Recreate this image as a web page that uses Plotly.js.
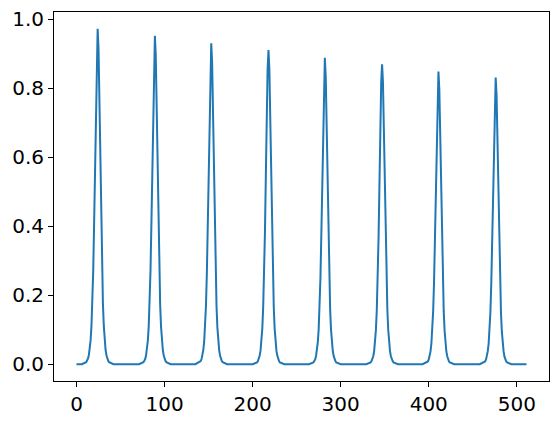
<!DOCTYPE html>
<html>
<head>
<meta charset="utf-8">
<script src="https://cdn.plot.ly/plotly-3.0.1.min.js"></script>
<style>html,body{margin:0;padding:0;background:#fff;}#chart{width:558px;height:421px;}</style>
</head>
<body>
<div id="chart"></div>
<script>
// Sample index where each pulse peaks
const peakCenters = [24, 89, 153, 218, 282, 347, 411, 476];
// Sample offsets around each peak
const offsets = [-18, -13, -12, -11, -10, -9, -8, -7, -6, -5, -4, -3, -2, -1, 0, 1, 2, 3, 4, 5, 6, 7, 8, 9, 10, 11, 12, 13, 18];
// Values (same offsets as above)
const pulse1 = [0, 0.006,0.010,0.016,0.026,0.042,0.069,0.111,0.176,0.272,0.408,0.580,0.764,0.914,0.972,0.914,0.764,0.580,0.408,0.272,0.176,0.111,0.069,0.042,0.026,0.016,0.010,0.006, 0];
const pulse2 = [0, 0.006,0.010,0.015,0.026,0.042,0.068,0.109,0.172,0.267,0.400,0.568,0.748,0.895,0.952,0.895,0.748,0.568,0.400,0.267,0.172,0.109,0.068,0.042,0.026,0.015,0.010,0.006, 0];
const pulse3 = [0, 0.006,0.009,0.015,0.025,0.041,0.066,0.106,0.168,0.260,0.391,0.555,0.731,0.874,0.930,0.874,0.731,0.555,0.391,0.260,0.168,0.106,0.066,0.041,0.025,0.015,0.009,0.006, 0];
const pulse4 = [0, 0.005,0.009,0.015,0.025,0.040,0.065,0.104,0.165,0.255,0.382,0.543,0.715,0.855,0.910,0.855,0.715,0.543,0.382,0.255,0.165,0.104,0.065,0.040,0.025,0.015,0.009,0.005, 0];
const pulse5 = [0, 0.005,0.009,0.014,0.024,0.039,0.063,0.101,0.161,0.249,0.373,0.530,0.698,0.835,0.888,0.835,0.698,0.530,0.373,0.249,0.161,0.101,0.063,0.039,0.024,0.014,0.009,0.005, 0];
const pulse6 = [0, 0.005,0.009,0.014,0.023,0.038,0.062,0.099,0.157,0.243,0.365,0.519,0.683,0.817,0.869,0.817,0.683,0.519,0.365,0.243,0.157,0.099,0.062,0.038,0.023,0.014,0.009,0.005, 0];
const pulse7 = [0, 0.005,0.008,0.014,0.023,0.037,0.060,0.097,0.153,0.237,0.356,0.506,0.667,0.797,0.848,0.797,0.667,0.506,0.356,0.237,0.153,0.097,0.060,0.037,0.023,0.014,0.008,0.005, 0];
const pulse8 = [0, 0.005,0.008,0.013,0.022,0.037,0.059,0.095,0.150,0.233,0.349,0.496,0.653,0.781,0.831,0.781,0.653,0.496,0.349,0.233,0.150,0.095,0.059,0.037,0.022,0.013,0.008,0.005, 0];
// Signal start/end samples (flat at zero)
const startX = 0, endX = 511;
const xTicks = [0, 100, 200, 300, 400, 500];
const xTickLabels = ['0', '100', '200', '300', '400', '500'];
const yTicks = [0, 0.2, 0.4, 0.6, 0.8, 1.0];
const yTickLabels = ['0.0', '0.2', '0.4', '0.6', '0.8', '1.0'];

const pulses = [pulse1, pulse2, pulse3, pulse4, pulse5, pulse6, pulse7, pulse8];
const xs = [startX], ys = [0];
pulses.forEach((p, i) => {
  offsets.forEach((o, j) => { xs.push(peakCenters[i] + o); ys.push(p[j]); });
});
xs.push(endX); ys.push(0);

const xmin = startX, xmax = endX;
const xpad = (xmax - xmin) * 0.05;
const ymaxv = Math.max(...ys), yminv = 0;
const ypad = (ymaxv - yminv) * 0.05;

const font = {family: 'DejaVu Sans, sans-serif', size: 20, color: '#000'};
const axisCommon = {
  showgrid: false, zeroline: false, showline: true, linecolor: '#000', linewidth: 1,
  mirror: true, ticks: 'outside', ticklen: 5, tickwidth: 1, tickcolor: '#000',
  tickfont: font
};

Plotly.newPlot('chart', [{
  x: xs, y: ys, type: 'scatter', mode: 'lines',
  line: {color: '#1f77b4', width: 2}, hoverinfo: 'skip'
}], {
  width: 558, height: 421,
  margin: {l: 54, r: 9, t: 12, b: 40, pad: 0},
  paper_bgcolor: '#fff', plot_bgcolor: '#fff',
  showlegend: false,
  xaxis: Object.assign({}, axisCommon, {
    range: [xmin - xpad, xmax + xpad],
    tickvals: xTicks, ticktext: xTickLabels
  }),
  yaxis: Object.assign({}, axisCommon, {
    range: [yminv - ypad, ymaxv + ypad],
    tickvals: yTicks, ticktext: yTickLabels
  })
}, {staticPlot: true, displayModeBar: false});
</script>
</body>
</html>
